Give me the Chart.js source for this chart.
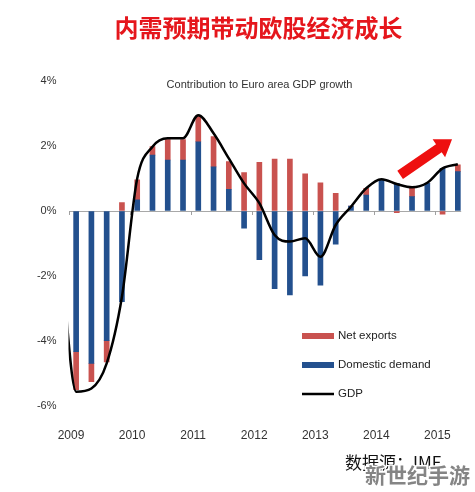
<!DOCTYPE html>
<html><head><meta charset="utf-8">
<script src="https://cdn.jsdelivr.net/npm/chart.js@4.4.1/dist/chart.umd.min.js"></script>
<style>html,body{margin:0;padding:0;background:#fff;}</style>
</head><body>
<canvas id="c" width="475" height="492"></canvas>
<script>
const titleText = '内需预期带动欧股经济成长';
const subtitleText = 'Contribution to Euro area GDP growth';
const sourceText = '数据源：IMF';
const watermarkText = '新世纪手游';

const quarters = ['2008Q4',
  '2009Q1','2009Q2','2009Q3','2009Q4',
  '2010Q1','2010Q2','2010Q3','2010Q4',
  '2011Q1','2011Q2','2011Q3','2011Q4',
  '2012Q1','2012Q2','2012Q3','2012Q4',
  '2013Q1','2013Q2','2013Q3','2013Q4',
  '2014Q1','2014Q2','2014Q3','2014Q4',
  '2015Q1','2015Q2'];
const yearTicks = [2009, 2010, 2011, 2012, 2013, 2014, 2015];
const yTicks = [-6, -4, -2, 0, 2, 4];

const netExports = [null,
  -1.17, -0.56, -0.65, 0.26,
  0.62, 0.26, 0.63, 0.63,
  0.80, 0.93, 0.85, 1.18,
  1.50, 1.60, 1.60, 1.14,
  0.87, 0.54, 0.00, 0.21,
  0.00, -0.05, 0.28, 0.00,
  -0.10, 0.21];
const domesticDemand = [null,
  -4.33, -4.69, -3.99, -2.79,
  0.34, 1.72, 1.57, 1.57,
  2.13, 1.36, 0.67, -0.53,
  -1.50, -2.39, -2.58, -2.00,
  -2.28, -1.02, 0.15, 0.49,
  0.95, 0.85, 0.44, 0.85,
  1.31, 1.21];
const gdp = [-1.4,
  -5.56, -5.46, -4.69, -2.64,
  1.00, 1.98, 2.24, 2.24,
  2.95, 2.39, 1.62, 0.85,
  0.24, -0.74, -0.94, -0.84,
  -1.41, -0.43, 0.13, 0.70,
  0.98, 0.83, 0.73, 0.87,
  1.31, 1.44];

// annotation arrow in data units (x = year, y = %)
const arrowFrom = [2014.43, 1.11];
const arrowTo = [2015.28, 2.21];

const qx = q => +q.slice(0, 4) + (+q.slice(5) - 0.5) / 4;
const pts = arr => quarters.map((q, i) => ({x: qx(q), y: arr[i]}));

const FONT = 'Liberation Sans, Arial, sans-serif';
const CJK = '"Noto Sans CJK SC", sans-serif';
const BLUE = '#23508e', RED = '#c9524f';

const decor = {
  id: 'decor',
  beforeDatasetsDraw(chart) {
    const {ctx, scales: {x, y}} = chart;
    const y0 = y.getPixelForValue(0);
    ctx.save();
    ctx.strokeStyle = '#a0a0a0';
    ctx.lineWidth = 1;
    yearTicks.forEach(v => {
      const px = Math.round(x.getPixelForValue(v)) + 0.5;
      ctx.beginPath(); ctx.moveTo(px, y0); ctx.lineTo(px, y0 + 4); ctx.stroke();
    });
    ctx.restore();
  },
  afterDraw(chart) {
    const {ctx, scales: {x, y}, chartArea} = chart;
    ctx.save();
    // title
    ctx.font = 'bold 24px ' + CJK;
    ctx.fillStyle = '#e5161c';
    ctx.textAlign = 'center'; ctx.textBaseline = 'middle';
    ctx.fillText(titleText, 258.5, 28);
    // subtitle
    ctx.font = '11px ' + FONT;
    ctx.fillStyle = '#333';
    ctx.fillText(subtitleText, 259.5, chartArea.top + 3.5);
    // legend
    const items = ['Net exports', 'Domestic demand', 'GDP'].map(l => chart.data.datasets.find(d => d.label === l));
    ctx.textAlign = 'left';
    ctx.font = '11.5px ' + FONT;
    items.forEach((d, i) => {
      const cy = 336 + i * 29;
      if (d.type === 'line') {
        ctx.strokeStyle = d.borderColor; ctx.lineWidth = 2.5;
        ctx.beginPath(); ctx.moveTo(302, cy); ctx.lineTo(334, cy); ctx.stroke();
      } else {
        ctx.fillStyle = d.backgroundColor;
        ctx.fillRect(302, cy - 3, 32, 6);
      }
      ctx.fillStyle = '#222';
      ctx.fillText(d.label, 338, cy);
    });
    // arrow
    const x1 = x.getPixelForValue(arrowFrom[0]), y1 = y.getPixelForValue(arrowFrom[1]);
    const x2 = x.getPixelForValue(arrowTo[0]), y2 = y.getPixelForValue(arrowTo[1]);
    const len = Math.hypot(x2 - x1, y2 - y1);
    const dx = (x2 - x1) / len, dy = (y2 - y1) / len, nx = -dy, ny = dx;
    const sw = 5, hw = 11, hl = 16;
    const bx = x2 - dx * hl, by = y2 - dy * hl;
    ctx.fillStyle = '#ee1010';
    ctx.beginPath();
    ctx.moveTo(x1 + nx * sw, y1 + ny * sw);
    ctx.lineTo(bx + nx * sw, by + ny * sw);
    ctx.lineTo(bx + nx * hw, by + ny * hw);
    ctx.lineTo(x2, y2);
    ctx.lineTo(bx - nx * hw, by - ny * hw);
    ctx.lineTo(bx - nx * sw, by - ny * sw);
    ctx.lineTo(x1 - nx * sw, y1 - ny * sw);
    ctx.closePath(); ctx.fill();
    // source
    ctx.font = '17px ' + CJK;
    ctx.fillStyle = '#111';
    ctx.fillText(sourceText, 345, 463);
    // watermark
    ctx.font = 'bold 21px ' + CJK;
    ctx.lineWidth = 3; ctx.strokeStyle = '#fff'; ctx.lineJoin = 'round';
    ctx.strokeText(watermarkText, 365, 475);
    ctx.fillStyle = '#858585';
    ctx.fillText(watermarkText, 365, 475);
    ctx.restore();
  }
};

new Chart(document.getElementById('c'), {
  data: {
    datasets: [
      {type: 'line', label: 'GDP', data: pts(gdp), borderColor: '#000', borderWidth: 2.5,
       pointRadius: 0, cubicInterpolationMode: 'monotone', fill: false, order: 0, stack: 'gdp'},
      {type: 'bar', label: 'Domestic demand', data: pts(domesticDemand), backgroundColor: BLUE,
       barThickness: 5, order: 1, stack: 'bars'},
      {type: 'bar', label: 'Net exports', data: pts(netExports), backgroundColor: RED,
       barThickness: 5, order: 1, stack: 'bars'}
    ]
  },
  options: {
    responsive: false, animation: false,
    layout: {padding: {left: 0, right: 13.8, top: 81, bottom: 0}},
    plugins: {legend: {display: false}, tooltip: {enabled: false}, title: {display: false}},
    scales: {
      x: {
        type: 'linear', min: 2009, max: 2015.43, stacked: true, offset: false,
        grid: {display: false, offset: false}, border: {display: false},
        afterBuildTicks: s => { s.ticks = yearTicks.map(v => ({value: v})); },
        ticks: {padding: 14, labelOffset: 2.5, autoSkip: false, maxRotation: 0, color: '#333',
                font: {family: FONT, size: 12}, callback: v => String(v)},
        afterFit: s => { s.height = 86; }
      },
      y: {
        min: -6, max: 4, stacked: true,
        afterBuildTicks: s => { s.ticks = yTicks.map(v => ({value: v})); },
        grid: {color: c => (c.tick && c.tick.value === 0) ? '#a8a8a8' : 'rgba(0,0,0,0)', drawTicks: false, lineWidth: 1},
        border: {display: false},
        ticks: {padding: 12, color: '#333', font: {family: FONT, size: 11}, callback: v => v + '%'},
        afterFit: s => { s.width = 68.5; }
      }
    }
  },
  plugins: [decor]
});
</script>
</body></html>
